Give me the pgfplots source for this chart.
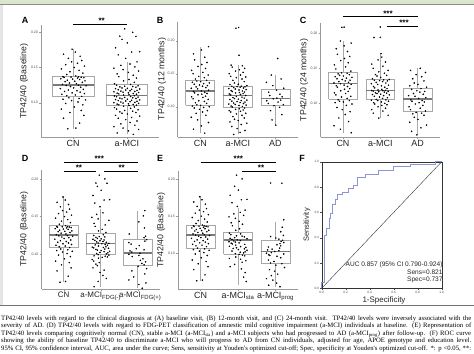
\documentclass[border=0pt]{standalone}
\usepackage{pgfplots}
\pgfplotsset{compat=1.18}
\usepackage{pgfplotstable}
\usepackage{fontspec}
\newfontfamily\arial{Liberation Sans}
\newfontfamily\capfont{Liberation Serif}
\definecolor{axgray}{HTML}{9A9A9A}
\definecolor{boxgray}{HTML}{A8A8A8}
\definecolor{medgray}{HTML}{7A7A7A}
\definecolor{rocblue}{HTML}{8C96D2}
\definecolor{band}{HTML}{DCE6CC}

\pgfplotstableread[row sep=\\]{j y\\
-0.10 0.063\\ 0.05 0.064\\ 0.12 0.071\\ -0.18 0.078\\ 0.20 0.082\\ -0.06 0.086\\ 0.15 0.089\\ -0.22 0.091\\ 0.02 0.094\\ 0.18 0.097\\ -0.14 0.099\\ 0.09 0.101\\ -0.03 0.103\\ 0.23 0.104\\ -0.19 0.105\\ 0.11 0.106\\ -0.08 0.107\\
0.16 0.109\\ -0.12 0.110\\ 0.04 0.111\\ -0.21 0.112\\ 0.21 0.113\\ -0.02 0.114\\ 0.13 0.115\\ -0.16 0.116\\ 0.07 0.117\\ -0.09 0.118\\ 0.19 0.119\\ -0.24 0.120\\ 0.01 0.121\\ 0.14 0.122\\ -0.05 0.123\\ 0.24 0.124\\ -0.13 0.1245\\ 0.10 0.1248\\
-0.20 0.126\\ 0.06 0.127\\ -0.07 0.128\\ 0.17 0.129\\ -0.15 0.130\\ 0.03 0.1305\\ 0.22 0.131\\ -0.11 0.132\\ 0.12 0.133\\ -0.01 0.1335\\ -0.23 0.134\\ 0.08 0.135\\ 0.20 0.1355\\ -0.17 0.136\\ 0.15 0.1362\\ -0.04 0.1365\\ 0.10 0.1368\\ -0.19 0.1369\\
0.05 0.138\\ -0.12 0.140\\ 0.18 0.142\\ -0.06 0.144\\ 0.11 0.146\\ -0.22 0.148\\ 0.02 0.150\\ 0.21 0.152\\ -0.14 0.154\\ 0.08 0.156\\ -0.03 0.158\\ 0.16 0.160\\ -0.09 0.163\\ 0.13 0.166\\ -0.18 0.169\\ 0.04 0.172\\ -0.02 0.176\\
}\cnbase

\pgfplotstableread[row sep=\\]{y j f p\\
0.055 0.12 1 1\\ 0.057 -0.18 0 1\\ 0.060 0.03 1 1\\ 0.062 0.22 1 0\\ 0.064 -0.07 0 1\\ 0.066 -0.24 1 1\\ 0.068 0.15 0 0\\ 0.070 -0.11 1 1\\ 0.072 0.06 0 1\\ 0.074 0.19 1 0\\ 0.076 -0.02 0 1\\ 0.078 -0.16 1 1\\ 0.079 0.09 0 0\\ 0.081 0.24 1 1\\ 0.082 -0.21 0 0\\ 0.084 0.01 1 1\\ 0.085 -0.09 0 0\\ 0.086 0.17 1 1\\ 0.087 -0.13 0 1\\ 0.088 0.11 1 0\\ 0.089 -0.04 0 1\\ 0.090 0.21 1 0\\ 0.091 -0.19 0 1\\ 0.092 0.07 1 0\\ 0.093 -0.23 0 0\\ 0.094 0.14 1 1\\ 0.095 -0.06 0 0\\ 0.096 0.04 0 1\\
0.0965 0.18 0 0\\ 0.097 -0.15 1 1\\ 0.0975 0.12 0 0\\ 0.098 -0.18 0 1\\ 0.0985 0.03 1 0\\ 0.099 0.22 0 1\\ 0.0995 -0.07 0 0\\ 0.100 -0.24 1 1\\ 0.1005 0.15 0 0\\ 0.101 -0.11 0 1\\ 0.1015 0.06 1 0\\ 0.102 0.19 0 0\\ 0.1025 -0.02 0 1\\ 0.103 -0.16 1 0\\ 0.1035 0.09 0 1\\ 0.104 0.24 0 0\\ 0.1045 -0.21 1 1\\ 0.105 0.01 0 0\\ 0.1055 -0.09 0 1\\ 0.106 0.17 1 0\\ 0.1065 -0.13 0 0\\ 0.107 0.11 0 1\\ 0.1075 -0.04 1 0\\ 0.108 0.21 0 0\\ 0.1085 -0.19 0 1\\ 0.109 0.07 0 0\\ 0.1095 -0.23 0 0\\ 0.110 0.14 0 1\\
0.111 -0.06 0 0\\ 0.1115 0.04 1 1\\ 0.112 0.18 0 0\\ 0.1125 -0.15 0 0\\ 0.113 0.12 0 1\\ 0.1135 -0.18 1 0\\ 0.114 0.03 0 0\\ 0.1145 0.22 0 1\\ 0.115 -0.07 0 0\\ 0.1155 -0.24 1 0\\ 0.116 0.15 0 1\\ 0.1165 -0.11 0 0\\ 0.117 0.06 0 0\\ 0.1175 0.19 1 1\\ 0.118 -0.02 0 0\\ 0.1185 -0.16 0 0\\ 0.119 0.09 0 1\\ 0.1195 0.24 1 0\\ 0.120 -0.21 0 0\\ 0.1205 0.01 0 1\\ 0.121 -0.09 0 0\\ 0.122 0.17 1 0\\ 0.1225 -0.13 0 1\\ 0.123 0.11 0 0\\ 0.1235 -0.04 0 0\\ 0.124 0.21 1 1\\ 0.125 -0.19 0 0\\ 0.126 0.07 0 0\\
0.127 -0.23 1 0\\ 0.129 0.14 0 1\\ 0.131 -0.06 0 0\\ 0.133 0.04 0 0\\ 0.135 0.18 1 1\\ 0.137 -0.15 0 0\\ 0.139 0.12 0 0\\ 0.141 -0.18 0 0\\ 0.143 0.03 1 0\\ 0.145 0.22 0 1\\ 0.147 -0.07 0 0\\ 0.149 -0.24 0 0\\ 0.151 0.15 1 0\\ 0.153 -0.11 0 0\\ 0.155 0.06 0 0\\ 0.158 0.19 1 0\\ 0.163 -0.02 0 0\\ 0.168 -0.16 0 0\\ 0.172 0.09 0 0\\ 0.1725 0.24 0 0\\ 0.178 -0.21 0 0\\ 0.185 0.01 0 0\\ 0.190 -0.09 0 0\\ 0.1942 0.17 0 1\\ 0.1945 -0.13 0 1\\ 0.200 0.11 0 0\\ 0.205 -0.04 0 0\\
}\mcibase

\pgfplotstableread[row sep=\\]{j y\\
0.12 0.060\\ -0.18 0.066\\ 0.03 0.071\\ 0.22 0.076\\ -0.07 0.080\\ -0.24 0.084\\ 0.15 0.087\\ -0.11 0.090\\ 0.06 0.092\\ 0.19 0.094\\ -0.02 0.096\\ -0.16 0.098\\ 0.09 0.099\\ 0.24 0.100\\ -0.21 0.101\\ 0.01 0.102\\ -0.09 0.103\\ 0.17 0.105\\ -0.13 0.106\\ 0.11 0.108\\ -0.04 0.109\\ 0.21 0.111\\ -0.19 0.112\\ 0.07 0.114\\ -0.23 0.115\\ 0.14 0.116\\ -0.06 0.118\\ 0.04 0.119\\ 0.18 0.120\\ -0.15 0.121\\
0.12 0.122\\ -0.18 0.123\\ 0.03 0.124\\ 0.22 0.125\\ -0.07 0.127\\ -0.24 0.128\\ 0.15 0.129\\ -0.11 0.130\\ 0.06 0.131\\ 0.19 0.132\\ -0.02 0.133\\ -0.16 0.134\\ 0.09 0.135\\ 0.24 0.136\\ -0.21 0.137\\ 0.01 0.138\\ -0.09 0.139\\ 0.17 0.140\\ -0.13 0.142\\ 0.11 0.144\\ -0.04 0.146\\ 0.21 0.148\\ -0.19 0.150\\ 0.07 0.152\\ -0.23 0.155\\ 0.14 0.158\\ -0.06 0.161\\ 0.04 0.164\\ 0.18 0.167\\ -0.15 0.171\\
0.12 0.175\\ -0.18 0.180\\ 0.03 0.186\\ 0.22 0.191\\
}\bcn

\pgfplotstableread[row sep=\\]{j y\\
-0.11 0.058\\ 0.06 0.061\\ 0.19 0.064\\ -0.02 0.067\\ -0.16 0.070\\ 0.09 0.073\\ 0.24 0.075\\ -0.21 0.077\\ 0.01 0.079\\ -0.09 0.081\\ 0.17 0.083\\ -0.13 0.085\\ 0.11 0.087\\ -0.04 0.089\\ 0.21 0.090\\ -0.19 0.092\\ 0.07 0.093\\ -0.23 0.094\\ 0.14 0.095\\ -0.06 0.096\\ 0.04 0.097\\ 0.18 0.098\\ -0.15 0.0995\\ 0.12 0.1003\\ -0.18 0.101\\ 0.03 0.1018\\ 0.22 0.1025\\ -0.07 0.1033\\ -0.24 0.104\\ 0.15 0.1048\\
-0.11 0.1055\\ 0.06 0.1063\\ 0.19 0.107\\ -0.02 0.1078\\ -0.16 0.1085\\ 0.09 0.1093\\ 0.24 0.110\\ -0.21 0.1108\\ 0.01 0.1115\\ -0.09 0.1123\\ 0.17 0.113\\ -0.13 0.1138\\ 0.11 0.1145\\ -0.04 0.1155\\ 0.21 0.117\\ -0.19 0.1178\\ 0.07 0.1185\\ -0.23 0.1193\\ 0.14 0.120\\ -0.06 0.1208\\ 0.04 0.1215\\ 0.18 0.1223\\ -0.15 0.123\\ 0.12 0.1238\\ -0.18 0.1245\\ 0.03 0.1253\\ 0.22 0.126\\ -0.07 0.1268\\ -0.24 0.1275\\ 0.15 0.1283\\
-0.11 0.129\\ 0.06 0.1295\\ 0.19 0.130\\ -0.02 0.1305\\ -0.16 0.131\\ 0.09 0.1312\\ 0.24 0.132\\ -0.21 0.1335\\ 0.01 0.134\\ -0.09 0.136\\ 0.17 0.138\\ -0.13 0.140\\ 0.11 0.142\\ -0.04 0.144\\ 0.21 0.145\\ -0.19 0.146\\ 0.07 0.148\\ -0.23 0.150\\ 0.14 0.152\\ -0.06 0.154\\ 0.04 0.156\\ 0.18 0.158\\ -0.15 0.160\\ 0.12 0.162\\ -0.18 0.163\\ 0.03 0.178\\ -0.05 0.219\\ 0.02 0.220\\
}\bmci

\pgfplotstableread[row sep=\\]{j y\\
0.01 0.072\\ -0.09 0.080\\ 0.17 0.088\\ -0.13 0.094\\ 0.11 0.099\\ -0.04 0.1015\\ 0.21 0.103\\ -0.19 0.105\\ 0.07 0.107\\ -0.23 0.109\\ 0.14 0.110\\ -0.06 0.112\\ 0.04 0.113\\ 0.18 0.115\\ -0.15 0.117\\ 0.12 0.119\\ -0.18 0.122\\ 0.03 0.125\\ 0.22 0.128\\ -0.07 0.132\\ -0.24 0.137\\ 0.15 0.142\\ -0.11 0.148\\ 0.06 0.173\\
}\bad

\pgfplotstableread[row sep=\\]{j y\\
0.22 0.058\\ -0.07 0.063\\ -0.24 0.068\\ 0.15 0.074\\ -0.11 0.079\\ 0.06 0.084\\ 0.19 0.088\\ -0.02 0.091\\ -0.16 0.094\\ 0.09 0.097\\ 0.24 0.099\\ -0.21 0.101\\ 0.01 0.102\\ -0.09 0.103\\ 0.17 0.104\\ -0.13 0.105\\ 0.11 0.107\\ -0.04 0.109\\ 0.21 0.110\\ -0.19 0.112\\ 0.07 0.114\\ -0.23 0.115\\ 0.14 0.117\\ -0.06 0.118\\ 0.04 0.120\\ 0.18 0.121\\ -0.15 0.123\\ 0.12 0.124\\ -0.18 0.125\\ 0.03 0.126\\
0.22 0.127\\ -0.07 0.128\\ -0.24 0.129\\ 0.15 0.130\\ -0.11 0.131\\ 0.06 0.132\\ 0.19 0.133\\ -0.02 0.134\\ -0.16 0.135\\ 0.09 0.136\\ 0.24 0.137\\ -0.21 0.138\\ 0.01 0.139\\ -0.09 0.140\\ 0.17 0.141\\ -0.13 0.142\\ 0.11 0.143\\ -0.04 0.1435\\ 0.21 0.146\\ -0.19 0.149\\ 0.07 0.152\\ -0.23 0.155\\ 0.14 0.158\\ -0.06 0.161\\ 0.04 0.164\\ 0.18 0.167\\ -0.15 0.170\\ 0.12 0.174\\ -0.18 0.178\\ 0.03 0.182\\
0.22 0.186\\ -0.07 0.189\\ -0.03 0.2085\\ 0.03 0.2088\\
}\ccn

\pgfplotstableread[row sep=\\]{j y\\
-0.04 0.079\\ 0.21 0.083\\ -0.19 0.086\\ 0.07 0.089\\ -0.23 0.091\\ 0.14 0.093\\ -0.06 0.095\\ 0.04 0.097\\ 0.18 0.098\\ -0.15 0.099\\ 0.12 0.100\\ -0.18 0.101\\ 0.03 0.102\\ 0.22 0.103\\ -0.07 0.104\\ -0.24 0.1045\\ 0.15 0.105\\ -0.11 0.1055\\ 0.06 0.107\\ 0.19 0.108\\ -0.02 0.109\\ -0.16 0.110\\ 0.09 0.111\\ 0.24 0.112\\ -0.21 0.1125\\ 0.01 0.113\\ -0.09 0.114\\ 0.17 0.1145\\ -0.13 0.115\\ 0.11 0.116\\
-0.04 0.1165\\ 0.21 0.117\\ -0.19 0.1175\\ 0.07 0.118\\ -0.23 0.1183\\ 0.14 0.1185\\ -0.06 0.119\\ 0.04 0.120\\ 0.18 0.121\\ -0.15 0.122\\ 0.12 0.123\\ -0.18 0.124\\ 0.03 0.125\\ 0.22 0.126\\ -0.07 0.127\\ -0.24 0.128\\ 0.15 0.129\\ -0.11 0.130\\ 0.06 0.131\\ 0.19 0.132\\ -0.02 0.1325\\ -0.16 0.133\\ 0.09 0.1335\\ 0.24 0.134\\ -0.21 0.135\\ 0.01 0.137\\ -0.09 0.139\\ 0.17 0.140\\ -0.13 0.141\\ 0.11 0.143\\
-0.04 0.145\\ 0.21 0.147\\ -0.19 0.150\\ 0.07 0.153\\ -0.23 0.156\\ 0.14 0.159\\ -0.06 0.162\\ 0.04 0.166\\ 0.02 0.171\\ -0.17 0.194\\ 0.00 0.1942\\ 0.00 0.209\\
}\cmci

\pgfplotstableread[row sep=\\]{j y\\
-0.02 0.055\\ -0.16 0.060\\ 0.09 0.065\\ 0.24 0.069\\ -0.21 0.073\\ 0.01 0.077\\ -0.09 0.080\\ 0.17 0.083\\ -0.13 0.085\\ 0.11 0.086\\ -0.04 0.087\\ 0.21 0.089\\ -0.19 0.091\\ 0.07 0.093\\ -0.23 0.095\\ 0.14 0.097\\ -0.06 0.099\\ 0.04 0.101\\ 0.18 0.102\\ -0.15 0.103\\ 0.12 0.104\\ -0.18 0.105\\ 0.03 0.107\\ 0.22 0.108\\ -0.07 0.110\\ -0.24 0.111\\ 0.15 0.113\\ -0.11 0.114\\ 0.06 0.116\\ 0.19 0.117\\
-0.02 0.118\\ -0.16 0.120\\ 0.09 0.121\\ 0.24 0.123\\ -0.21 0.125\\ 0.01 0.127\\ -0.09 0.129\\ 0.17 0.132\\ -0.13 0.135\\ 0.11 0.138\\ -0.04 0.141\\ 0.21 0.144\\ -0.19 0.147\\ 0.07 0.150\\
}\cad

\pgfplotsset{
  gg/.style={
    scale only axis, clip=false,
    axis x line*=bottom, axis y line*=left,
    axis line style={draw=axgray, line width=0.5bp},
    xmin=-0.6, xmax=2.6, xtick={0,1,2},
    ytick={0.10,0.15,0.20}, yticklabels={0.10,0.15,0.20},
    tick style={draw=axgray, line width=0.4bp},
    major tick length=2bp, tick align=outside,
    yticklabel style={font=\arial\fontsize{3.5}{4}\selectfont, text=black!70, inner sep=1bp},
    xticklabel style={font=\arial\fontsize{9}{10}\selectfont, text=black!85, inner sep=1.5bp},
  },
  pts/.style={only marks, mark=*, mark size=0.55bp, mark options={draw=none, fill=black}},
}
% box: #1 position, #2 left edge, #3 right edge, #4 median, #5 Q1, #6 Q3, #7 lower whisker, #8 upper whisker
\newcommand{\bxp}[8]{%
  \addplot[boxgray, line width=0.6bp] coordinates {(#1,#7) (#1,#5)};
  \addplot[boxgray, line width=0.6bp] coordinates {(#1,#6) (#1,#8)};
  \addplot[boxgray, line width=0.6bp, fill=white] coordinates {(#2,#5) (#3,#5) (#3,#6) (#2,#6) (#2,#5)};
  \addplot[medgray, line width=1.3bp] coordinates {(#2,#4) (#3,#4)};
}

\begin{document}
\begin{tikzpicture}
\useasboundingbox (0,0) rectangle (474bp,-354bp);
\fill[white] (0,0) rectangle (474bp,-354bp);
\fill[band] (0,0) rectangle (474bp,-4bp);
\draw[black!45, line width=0.6bp] (0,-4.5bp) -- (474bp,-4.5bp);
\fill[black!10] (0,-5bp) rectangle (3bp,-305bp);
\draw[black!55, line width=0.6bp] (0,-305bp) -- (474bp,-305bp);

% ---------- A ----------
\begin{axis}[gg, at={(41bp,-137bp)}, anchor=south west, width=118bp, height=112bp,
  xmin=-0.6, xmax=1.6, xtick={0,1}, xticklabels={CN,a-MCI}, ymin=0.0513, ymax=0.2104]
\bxp{0}{-0.385}{0.385}{0.1251}{0.1085}{0.1369}{0.063}{0.1759}
\bxp{1}{0.615}{1.385}{0.1105}{0.0963}{0.1261}{0.055}{0.158}
\addplot[pts] table[x expr=\thisrow{j}, y=y] {\cnbase};
\addplot[pts] table[x expr=1+\thisrow{j}, y=y] {\mcibase};
\addplot[black, line width=0.5bp] coordinates {(0,0.2118) (1,0.2118)};
\end{axis}
% ---------- B ----------
\begin{axis}[gg, at={(177.7bp,-137bp)}, anchor=south west, width=120.3bp, height=115.3bp,
  xticklabels={CN,a-MCI,AD}, ymin=0.0541, ymax=0.2288]
\bxp{0}{-0.385}{0.385}{0.1238}{0.1026}{0.1405}{0.060}{0.191}
\bxp{1}{0.615}{1.385}{0.1167}{0.0991}{0.1314}{0.058}{0.163}
\bxp{2}{1.615}{2.385}{0.1121}{0.1021}{0.1264}{0.072}{0.148}
\addplot[pts] table[x expr=\thisrow{j}, y=y] {\bcn};
\addplot[pts] table[x expr=1+\thisrow{j}, y=y] {\bmci};
\addplot[pts] table[x expr=2+\thisrow{j}, y=y] {\bad};
\end{axis}
% ---------- C ----------
\begin{axis}[gg, at={(320.6bp,-137bp)}, anchor=south west, width=119.4bp, height=114bp,
  xticklabels={CN,a-MCI,AD}, ymin=0.0519, ymax=0.2147]
\bxp{0}{-0.385}{0.385}{0.1286}{0.1061}{0.1437}{0.058}{0.189}
\bxp{1}{0.615}{1.385}{0.1186}{0.1061}{0.1343}{0.079}{0.171}
\bxp{2}{1.615}{2.385}{0.1061}{0.088}{0.1214}{0.055}{0.150}
\addplot[pts] table[x expr=\thisrow{j}, y=y] {\ccn};
\addplot[pts] table[x expr=1+\thisrow{j}, y=y] {\cmci};
\addplot[pts] table[x expr=2+\thisrow{j}, y=y] {\cad};
\addplot[black, line width=0.5bp] coordinates {(0,0.2237) (2,0.2237)};
\addplot[black, line width=0.5bp] coordinates {(1.17,0.2104) (2,0.2104)};
\end{axis}
% ---------- D ----------
\begin{axis}[gg, at={(41.5bp,-289bp)}, anchor=south west, width=118.5bp, height=119bp,
  xticklabel style={font=\arial\fontsize{8}{10}\selectfont, inner sep=1bp},
  xticklabels={CN,a-MCI\textsubscript{FDG(-)}\hspace{4bp},\hspace{5bp}a-MCI\textsubscript{FDG(+)}}, ymin=0.054, ymax=0.2118]
\bxp{0}{-0.385}{0.385}{0.1256}{0.1088}{0.1379}{0.063}{0.1773}
\bxp{1}{0.615}{1.385}{0.1146}{0.1004}{0.1279}{0.057}{0.160}
\bxp{2}{1.615}{2.385}{0.1017}{0.085}{0.1199}{0.055}{0.158}
\addplot[pts] table[x expr=\thisrow{j}, y=y] {\cnbase};
\addplot[pts] table[x expr=1+\thisrow{f}+\thisrow{j}, y=y] {\mcibase};
\addplot[black, line width=0.5bp] coordinates {(0,0.2215) (2,0.2215)};
\addplot[black, line width=0.5bp] coordinates {(0,0.2096) (0.88,0.2096)};
\addplot[black, line width=0.5bp] coordinates {(1.1,0.2096) (2,0.2096)};
\end{axis}
% ---------- E ----------
\begin{axis}[gg, at={(178bp,-289bp)}, anchor=south west, width=120bp, height=118bp,
  xticklabels={CN,a-MCI\textsubscript{sta},a-MCI\textsubscript{prog}}, ymin=0.052, ymax=0.2106]
\bxp{0}{-0.385}{0.385}{0.1246}{0.1067}{0.1371}{0.063}{0.1765}
\bxp{1}{0.615}{1.385}{0.1179}{0.0987}{0.1282}{0.057}{0.1605}
\bxp{2}{1.615}{2.385}{0.1022}{0.086}{0.1179}{0.055}{0.1425}
\addplot[pts] table[x expr=\thisrow{j}, y=y] {\cnbase};
\addplot[pts] table[x expr=1+\thisrow{p}+\thisrow{j}, y=y] {\mcibase};
\addplot[black, line width=0.5bp] coordinates {(0,0.2223) (2,0.2223)};
\addplot[black, line width=0.5bp] coordinates {(1.11,0.2097) (2,0.2097)};
\end{axis}
% ---------- F ----------
\begin{axis}[scale only axis, clip=false, at={(321.7bp,-288.3bp)}, anchor=south west, width=120bp, height=126.6bp,
  xmin=0, xmax=1, ymin=0, ymax=1,
  axis line style={draw=black!80, line width=0.4bp},
  xtick={0,0.2,0.4,0.6,0.8,1}, xticklabels={0.0,0.2,0.4,0.6,0.8,1.0},
  ytick={0,0.2,0.4,0.6,0.8,1}, yticklabels={0.0,0.2,0.4,0.6,0.8,1.0},
  tick style={draw=black!70, line width=0.3bp}, major tick length=1.5bp, tick align=outside,
  xtick pos=bottom, ytick pos=left,
  ticklabel style={font=\arial\fontsize{3.2}{4}\selectfont, text=black!70, inner sep=1bp}]
\addplot[black!80, line width=0.4bp] coordinates {(0,0) (1,1)};
\addplot[rocblue, line width=0.8bp] coordinates {(0,0) (0,0.05) (0.02,0.05) (0.02,0.42) (0.04,0.42) (0.04,0.47) (0.06,0.47) (0.06,0.55) (0.075,0.55) (0.075,0.59) (0.09,0.59) (0.09,0.66) (0.11,0.66) (0.11,0.70) (0.13,0.70) (0.13,0.745) (0.175,0.745) (0.175,0.76) (0.22,0.76) (0.22,0.79) (0.26,0.79) (0.26,0.815) (0.30,0.815) (0.30,0.877) (0.36,0.877) (0.36,0.90) (0.47,0.90) (0.47,0.935) (0.60,0.935) (0.60,0.96) (0.74,0.96) (0.74,0.98) (0.95,0.98) (0.95,1) (1,1)};
\end{axis}

% labels
\begin{scope}[font=\arial\bfseries\fontsize{9}{10}\selectfont]
\node at (25bp,-20bp) {A};
\node at (160bp,-20bp) {B};
\node at (303bp,-20bp) {C};
\node at (25bp,-158bp) {D};
\node at (160bp,-158bp) {E};
\node at (302bp,-158bp) {F};
\end{scope}
\begin{scope}[font=\arial\fontsize{8.8}{10}\selectfont, text=black!85]
\node[rotate=90] at (24bp,-81bp) {TP42/40 (Baseline)};
\node[rotate=90] at (162bp,-79bp) {TP42/40 (12 months)};
\node[rotate=90] at (304bp,-80bp) {TP42/40 (24 months)};
\node[rotate=90] at (24bp,-229bp) {TP42/40 (Baseline)};
\node[rotate=90] at (161bp,-230bp) {TP42/40 (Baseline)};
\end{scope}
\node[rotate=90, font=\arial\fontsize{7.5}{9}\selectfont, text=black!85] at (307bp,-225bp) {Sensitivity};
\node[font=\arial\fontsize{8}{9}\selectfont, text=black!85] at (384bp,-300bp) {1-Specificity};
\begin{scope}[font=\arial\fontsize{6.6}{8}\selectfont, text=black!85]
\node[anchor=east] at (446bp,-265bp) {AUC 0.857 (95\% CI 0.790-0.924)};
\node[anchor=east] at (446bp,-272.5bp) {Sens=0.821};
\node[anchor=east] at (446bp,-280bp) {Spec=0.737};
\end{scope}
% stars
\begin{scope}[font=\arial\bfseries\fontsize{8}{9}\selectfont]
\node at (101.7bp,-20.7bp) {**};
\node at (388bp,-13.3bp) {***};
\node at (404bp,-22.7bp) {***};
\node at (99.3bp,-158.3bp) {***};
\node at (79bp,-167.7bp) {**};
\node at (121.7bp,-167.7bp) {**};
\node at (238.3bp,-158.3bp) {***};
\node at (261bp,-167.7bp) {**};
\end{scope}
% caption
\begin{scope}[font=\capfont\fontsize{6.7}{7.5}\selectfont, inner sep=0]
\node[anchor=base west] at (1bp,-320bp) {\makebox[470bp][s]{TP42/40 levels with regard to the clinical diagnosis at (A) baseline visit, (B) 12-month visit, and (C) 24-month visit. TP42/40 levels were inversely associated with the}};
\node[anchor=base west] at (1bp,-327.5bp) {\makebox[470bp][s]{severity of AD. (D) TP42/40 levels with regard to FDG-PET classification of amnestic mild cognitive impairment (a-MCI) individuals at baseline. (E) Representation of}};
\node[anchor=base west] at (1bp,-335bp) {\makebox[470bp][s]{TP42/40 levels comparing cognitively normal (CN), stable a-MCI (a-MCI\textsubscript{sta}) and a-MCI subjects who had progressed to AD (a-MCI\textsubscript{prog}) after follow-up. (F) ROC curve}};
\node[anchor=base west] at (1bp,-342.5bp) {\makebox[470bp][s]{showing the ability of baseline TP42/40 to discriminate a-MCI who will progress to AD from CN individuals, adjusted for age, APOE genotype and education level.}};
\node[anchor=base west] at (1bp,-350bp) {\makebox[470bp][s]{95\% CI, 95\% confidence interval, AUC, area under the curve; Sens, sensitivity at Youden's optimized cut-off; Spec, specificity at Youden's optimized cut-off. *: p <0.05, **:}};
\end{scope}
\end{tikzpicture}
\end{document}
